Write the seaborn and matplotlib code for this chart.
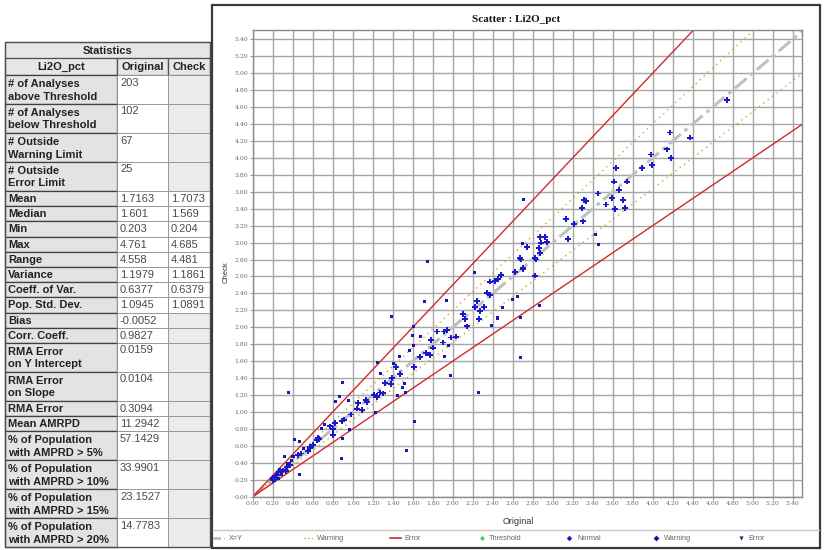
import numpy as np
import pandas as pd
import matplotlib
matplotlib.use("Agg")
import matplotlib.pyplot as plt
import seaborn as sns
from matplotlib.patches import Rectangle
from matplotlib.lines import Line2D

# ---------------- data ----------------
stat_labels = ["# of Analyses\nabove Threshold", "# of Analyses\nbelow Threshold",
               "# Outside\nWarning Limit", "# Outside\nError Limit",
               "Mean", "Median", "Min", "Max", "Range", "Variance", "Coeff. of Var.",
               "Pop. Std. Dev.", "Bias", "Corr. Coeff.", "RMA Error\non Y Intercept",
               "RMA Error\non Slope", "RMA Error", "Mean AMRPD",
               "% of Population\nwith AMPRD > 5%", "% of Population\nwith AMPRD > 10%",
               "% of Population\nwith AMPRD > 15%", "% of Population\nwith AMPRD > 20%"]
orig_vals = ["203", "102", "67", "25", "1.7163", "1.601", "0.203", "4.761", "4.558",
             "1.1979", "0.6377", "1.0945", "-0.0052", "0.9827", "0.0159", "0.0104",
             "0.3094", "11.2942", "57.1429", "33.9901", "23.1527", "14.7783"]
check_vals = ["", "", "", "", "1.7073", "1.569", "0.204", "4.685", "4.481", "1.1861",
              "0.6379", "1.0891", "", "", "", "", "", "", "", "", "", ""]

original = [0.19, 0.21, 0.22, 0.24, 0.26, 0.27, 0.29, 0.47, 0.34, 0.37, 0.35, 0.39, 0.32,
            0.41, 0.45, 0.48, 0.55, 0.51, 0.57, 0.60, 0.64, 0.65, 0.42, 0.90, 0.97, 0.69,
            0.72, 0.80, 0.80, 0.77, 0.82, 0.89, 0.91, 0.98, 1.09, 1.04, 0.83, 0.87, 0.96,
            1.05, 1.14, 1.13, 1.24, 0.36, 0.90, 1.25, 0.89, 0.23, 0.25, 0.20, 0.28, 0.30,
            0.33, 0.40, 0.57, 0.66, 0.47,
            1.21, 1.27, 1.30, 1.24, 1.50, 1.32, 1.53, 1.45, 1.23, 1.38, 1.52, 1.39, 1.28,
            1.47, 1.41, 1.43, 1.61, 1.47, 1.67, 1.92, 1.73, 1.77, 1.57, 1.61, 1.80, 1.96,
            1.78, 1.90, 1.60, 1.68, 1.98, 2.03, 1.84, 1.91, 1.94, 1.61, 2.14, 2.39, 2.12,
            2.26, 2.45, 2.68, 1.39, 2.10, 2.27, 2.50, 2.22, 2.31, 1.72, 2.24, 1.94, 2.34,
            2.37, 2.37, 2.42, 2.45, 2.48, 2.22, 2.62, 2.70, 2.82, 2.67, 2.82, 1.75, 1.98,
            2.68, 2.26, 1.62, 1.54,
            4.74, 4.17, 4.37, 4.14, 4.18, 3.98, 3.99, 3.89, 3.63, 3.61, 3.74, 3.66, 3.45,
            3.59, 3.70, 3.31, 3.33, 3.53, 3.29, 3.62, 3.72, 2.71, 3.13, 3.21, 3.30, 3.43,
            3.46, 3.15, 2.87, 2.92, 2.94, 2.88, 2.70, 2.74, 2.86, 2.87, 2.83, 2.68, 2.70,
            2.60, 2.65, 2.87]
check = [0.22, 0.24, 0.21, 0.26, 0.22, 0.32, 0.26, 0.26, 0.35, 0.37, 0.39, 0.43, 0.47,
         0.47, 0.49, 0.51, 0.54, 0.57, 0.58, 0.61, 0.67, 0.69, 0.68, 0.69, 0.79, 0.80,
         0.85, 0.73, 0.80, 0.83, 0.87, 0.89, 0.91, 0.97, 1.02, 1.04, 1.12, 1.18, 1.14,
         1.11, 1.12, 1.14, 1.19, 1.23, 1.35, 1.58, 0.45, 0.25, 0.28, 0.20, 0.29, 0.31,
         0.30, 0.47, 0.59, 0.68, 0.65,
         1.20, 1.23, 1.22, 1.18, 1.29, 1.34, 1.23, 1.19, 0.99, 1.33, 1.34, 1.40, 1.45,
         1.45, 1.57, 1.53, 1.53, 1.65, 1.65, 1.65, 1.70, 1.67, 1.73, 1.78, 1.76, 1.78,
         1.85, 1.82, 1.90, 1.89, 1.88, 1.89, 1.95, 1.95, 1.97, 2.01, 2.01, 2.02, 2.10,
         2.10, 2.11, 2.12, 2.13, 2.16, 2.19, 2.23, 2.24, 2.24, 2.30, 2.31, 2.32, 2.41,
         2.38, 2.54, 2.55, 2.57, 2.62, 2.65, 2.65, 2.70, 2.61, 2.82, 2.82, 2.78, 1.43,
         1.64, 1.23, 0.89, 0.55,
         4.68, 4.30, 4.24, 4.10, 4.00, 4.04, 3.92, 3.88, 3.88, 3.72, 3.72, 3.62, 3.58,
         3.53, 3.50, 3.50, 3.49, 3.45, 3.41, 3.40, 3.41, 3.51, 3.28, 3.22, 3.25, 3.10,
         2.98, 3.04, 3.07, 3.07, 3.01, 3.00, 2.99, 2.95, 2.94, 2.88, 2.80, 2.80, 2.69,
         2.33, 2.36, 2.26]

warn_factor = 1.1
err_factor = 1.25
axis_max = 5.5
tick_values = [round(0.2 * i, 2) for i in range(28)]

legend_labels = ["X=Y", "Warning", "Error", "Threshold", "Normal", "Warning", "Error"]

# ---------------- figure ----------------
fig = plt.figure(figsize=(8.24, 5.5), dpi=100)
fig.patch.set_facecolor("white")

ov = fig.add_axes([0, 0, 1, 1])
ov.set_xlim(0, 824)
ov.set_ylim(550, 0)
ov.axis("off")

# ----- statistics table -----
col_x = [5, 117, 168, 210]
tfont = dict(family="Liberation Sans", fontsize=8)
label_bg = "#e3e3e3"
y = 42
ov.add_patch(Rectangle((col_x[0], y), col_x[3] - col_x[0], 16, fc="#e6e6e6", ec="#707070", lw=0.8))
ov.text((col_x[0] + col_x[3]) / 2, y + 8.5, "Statistics", ha="center", va="center",
        fontweight="bold", color="#222222", **tfont)
y += 16
heads = ["Li2O_pct", "Original", "Check"]
for i in range(3):
    ov.add_patch(Rectangle((col_x[i], y), col_x[i + 1] - col_x[i], 17, fc="#e6e6e6",
                           ec="#505050", lw=0.9))
    ov.text((col_x[i] + col_x[i + 1]) / 2, y + 9, heads[i], ha="center", va="center",
            fontweight="bold", color="#222222", **tfont)
y += 17
for lab, ov_val, ck_val in zip(stat_labels, orig_vals, check_vals):
    h = 29 if "\n" in lab else 15.2
    ov.add_patch(Rectangle((col_x[0], y), col_x[1] - col_x[0], h, fc=label_bg,
                           ec="#404040", lw=0.9))
    ov.add_patch(Rectangle((col_x[1], y), col_x[2] - col_x[1], h, fc="white",
                           ec="#909090", lw=0.6))
    ov.add_patch(Rectangle((col_x[2], y), col_x[3] - col_x[2], h,
                           fc="white" if ck_val else "#ececec", ec="#909090", lw=0.6))
    if "\n" in lab:
        ov.text(col_x[0] + 3, y + h / 2 + 0.8, lab, ha="left", va="center", fontweight="bold",
                color="#222222", linespacing=1.3, **tfont)
        ov.text(col_x[1] + 3, y + 2.5, ov_val, ha="left", va="top", color="#4a4a4a", **tfont)
        ov.text(col_x[2] + 3, y + 2.5, ck_val, ha="left", va="top", color="#4a4a4a", **tfont)
    else:
        ov.text(col_x[0] + 3, y + h / 2 + 0.5, lab, ha="left", va="center",
                fontweight="bold", color="#222222", **tfont)
        ov.text(col_x[1] + 3, y + h / 2 + 0.5, ov_val, ha="left", va="center",
                color="#4a4a4a", **tfont)
        ov.text(col_x[2] + 3, y + h / 2 + 0.5, ck_val, ha="left", va="center",
                color="#4a4a4a", **tfont)
    y += h
ov.add_patch(Rectangle((col_x[0], 42), col_x[3] - col_x[0], y - 42, fc="none",
                       ec="#505050", lw=1.0))

# ----- chart panel frame -----
ov.add_patch(Rectangle((212, 5), 608, 543, fc="none", ec="#3a3a3a", lw=1.6))
ov.plot([213, 819], [530, 530], color="#c8c8c8", lw=1.0)
ov.text(516, 20, "Scatter : Li2O_pct", ha="center", va="center", fontsize=8,
        fontweight="bold", family="Liberation Serif", color="#111111")
ov.text(226, 272, "Check", ha="center", va="center", rotation=90, fontsize=5.5,
        family="Liberation Sans", color="#333333")
ov.text(518, 521, "Original", ha="center", va="center", fontsize=6.5,
        family="Liberation Sans", color="#333333")

# ----- legend strip -----
ly = 538
lt = dict(fontsize=5.3, family="Liberation Sans", color="#666666", va="center", ha="left")
ov.add_line(Line2D([213, 224], [ly, ly], color="#b8b8b8", lw=1.8, ls=(0, (3, 1.2, 1, 1.2))))
ov.text(229, ly, legend_labels[0], **lt)
ov.add_line(Line2D([304, 314], [ly, ly], color="#c8a830", lw=1.0, ls=(0, (1, 1.6))))
ov.text(317, ly, legend_labels[1], **lt)
ov.add_line(Line2D([390, 401], [ly, ly], color="#cc2a2a", lw=1.2))
ov.text(404, ly, legend_labels[2], **lt)
ov.plot([482], [ly], marker="P", ms=3.2, color="#22cc44", mew=0)
ov.text(489, ly, legend_labels[3], **lt)
ov.plot([569], [ly], marker="D", ms=2.8, color="#1a1acd", mew=0)
ov.text(577, ly, legend_labels[4], **lt)
ov.plot([656], [ly], marker="D", ms=3.0, color="#1010b0", mew=0)
ov.text(664, ly, legend_labels[5], **lt)
ov.plot([741], [ly], marker="v", ms=3.0, color="#202080", mew=0)
ov.text(748, ly, legend_labels[6], **lt)

# ----- scatter axes -----
ax = fig.add_axes([252.7 / 824, 1 - 496.7 / 550, (801.7 - 252.7) / 824, (496.7 - 30) / 550])
ax.set_facecolor("white")
ax.set_xlim(0, 5.49)
ax.set_ylim(0, 5.51)
ax.set_xticks(tick_values)
ax.set_yticks(tick_values)
ax.set_xticklabels([f"{v:.2f}" for v in tick_values])
ax.set_yticklabels([f"{v:.2f}" for v in tick_values])
ax.tick_params(axis="both", length=2.2, width=0.6, color="#808080", pad=1.0,
               labelsize=4.4, labelcolor="#666666")
for lbl in ax.get_xticklabels() + ax.get_yticklabels():
    lbl.set_family("DejaVu Serif")
ax.grid(True, color="#a6a6a6", lw=1.0)
ax.set_axisbelow(True)
for sp in ax.spines.values():
    sp.set_color("#8a8a8a")
    sp.set_linewidth(1.0)

xs = np.array([0, axis_max + 0.1])
ax.plot(xs, xs, color="#c0c0c0", lw=2.2, ls=(0, (5, 1.6, 1.2, 1.6)), zorder=2)
ax.plot(xs, xs * warn_factor, color="#c8a830", lw=1.0, ls=(0, (1, 3)), zorder=2)
ax.plot(xs, xs / warn_factor, color="#c8a830", lw=1.0, ls=(0, (1, 3)), zorder=2)
ax.plot(xs, xs * err_factor, color="#d02a2a", lw=1.0, zorder=2)
ax.plot(xs, xs / err_factor, color="#d02a2a", lw=1.0, zorder=2)

df = pd.DataFrame({"Original": original, "Check": check})
ratio = df["Check"] / df["Original"]
df["Status"] = np.where((ratio > err_factor) | (ratio < 1 / err_factor), "Error",
                        np.where((ratio > warn_factor) | (ratio < 1 / warn_factor),
                                 "Warning", "Normal"))
sns.scatterplot(data=df, x="Original", y="Check", hue="Status", style="Status",
                size="Status",
                palette={"Normal": "#1a1acd", "Warning": "#1515c0", "Error": "#1a1aa8"},
                markers={"Normal": "P", "Warning": "s", "Error": "s"},
                sizes={"Normal": 17, "Warning": 5, "Error": 5},
                linewidth=0, legend=False, ax=ax, zorder=3)
ax.set_xlabel("")
ax.set_ylabel("")

fig.savefig("out.png", dpi=100, facecolor="white")
